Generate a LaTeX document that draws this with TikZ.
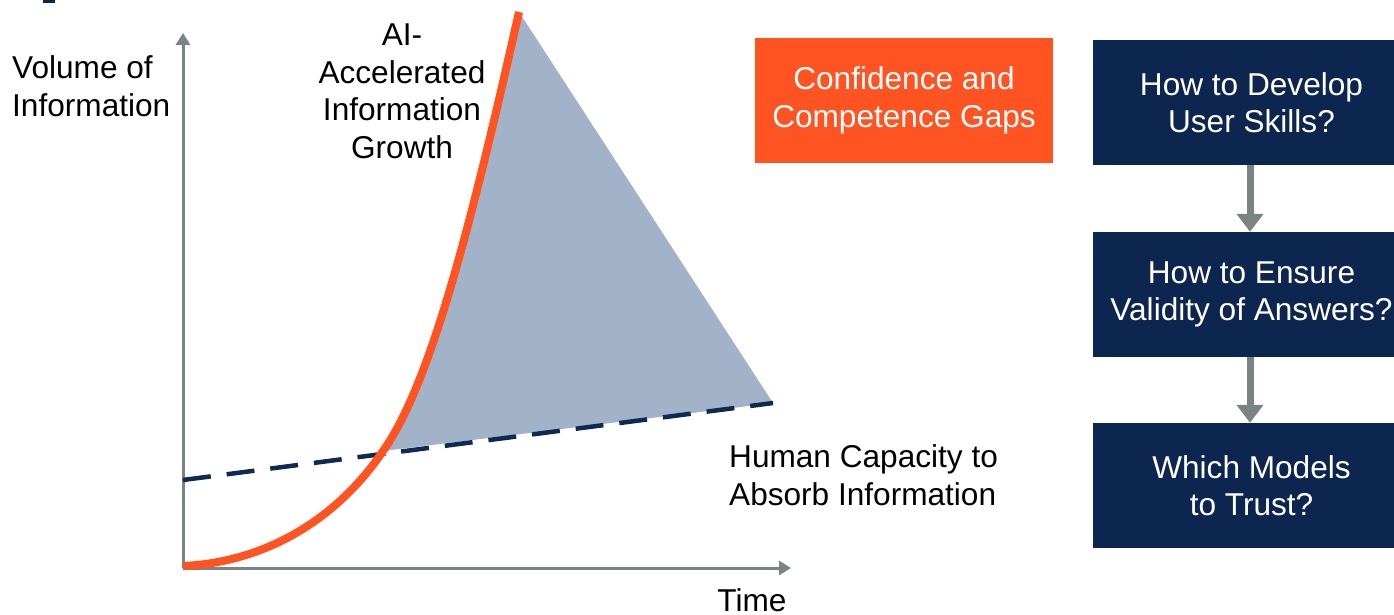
\documentclass[tikz,border=0pt]{standalone}
\usepackage{fontspec}
\setmainfont{Liberation Sans}
\usetikzlibrary{arrows.meta}
\definecolor{cOrange}{HTML}{FF5422}
\definecolor{cNavy}{HTML}{0C2650}
\definecolor{cFill}{HTML}{A2B3C9}
\definecolor{cDash}{HTML}{0D2A52}
\definecolor{cGray}{HTML}{7B8482}
\tikzset{
  txt/.style={font=\fontsize{31.6}{37.5}\selectfont, inner sep=0pt, align=center},
  navybox/.style={fill=cNavy, text=white, minimum width=317pt, minimum height=125pt, txt},
  orangebox/.style={fill=cOrange, text=white, minimum width=298pt, minimum height=125pt, txt},
  axis/.style={draw=cGray, line width=3pt, -{Triangle[width=14pt,length=12pt]}},
  flow/.style={draw=cGray, line width=7pt, -{Triangle[width=26pt,length=18pt]}},
  growth/.style={draw=cOrange, line width=8pt},
  capacity/.style={draw=cDash, line width=4.5pt, dash pattern=on 28pt off 16pt},
}
\begin{document}
\begin{tikzpicture}[x=1pt,y=-1pt]
\useasboundingbox (0,0) rectangle (1394,615);
% small mark at top-left
\fill[cNavy] (43,0) rectangle (55,3);
% axes
\coordinate (O) at (183,568);
\coordinate (Ytop) at (183,33);
\coordinate (Xend) at (791,568);
% shaded gap
\coordinate (P0) at (183,566);
\coordinate (Px) at (383,451);
\coordinate (Ptop) at (519,12);
\coordinate (Dend) at (773,403);
\coordinate (Dstart) at (183,480);
\fill[cFill] (Ptop) -- (Dend) -- (Px) .. controls (430,385) and (470,230) .. (Ptop) -- cycle;
\draw[axis] (O) -- (Ytop);
\draw[axis] (O) -- (Xend);
\draw[capacity] (Dstart) -- (Dend);
\draw[growth] (P0) .. controls (270,562) and (340,515) .. (Px) .. controls (430,385) and (470,230) .. (Ptop);
% labels
\node[txt, align=left, anchor=west] (ylab) at (12,86) {Volume of\\Information};
\node[txt] (ailab) at (402,91.5) {AI-\\Accelerated\\Information\\Growth};
\node[txt, align=left, anchor=west] (hlab) at (729,475) {Human Capacity to\\Absorb Information};
\node[txt] (xlab) at (752,600) {Time};
% boxes
\node[orangebox] (gap) at (904,100.5) {Confidence and\\Competence Gaps};
\node[navybox] (q1) at (1251.5,102.5) {How to Develop\\User Skills?};
\node[navybox] (q2) at (1251.5,294.5) {How to Ensure\\Validity of Answers?};
\node[navybox] (q3) at (1251.5,485.5) {Which Models\\to Trust?};
\draw[flow] ([xshift=-1.5pt]q1.south) -- ([xshift=-1.5pt]q2.north);
\draw[flow] ([xshift=-1.5pt]q2.south) -- ([xshift=-1.5pt]q3.north);
\end{tikzpicture}
\end{document}
